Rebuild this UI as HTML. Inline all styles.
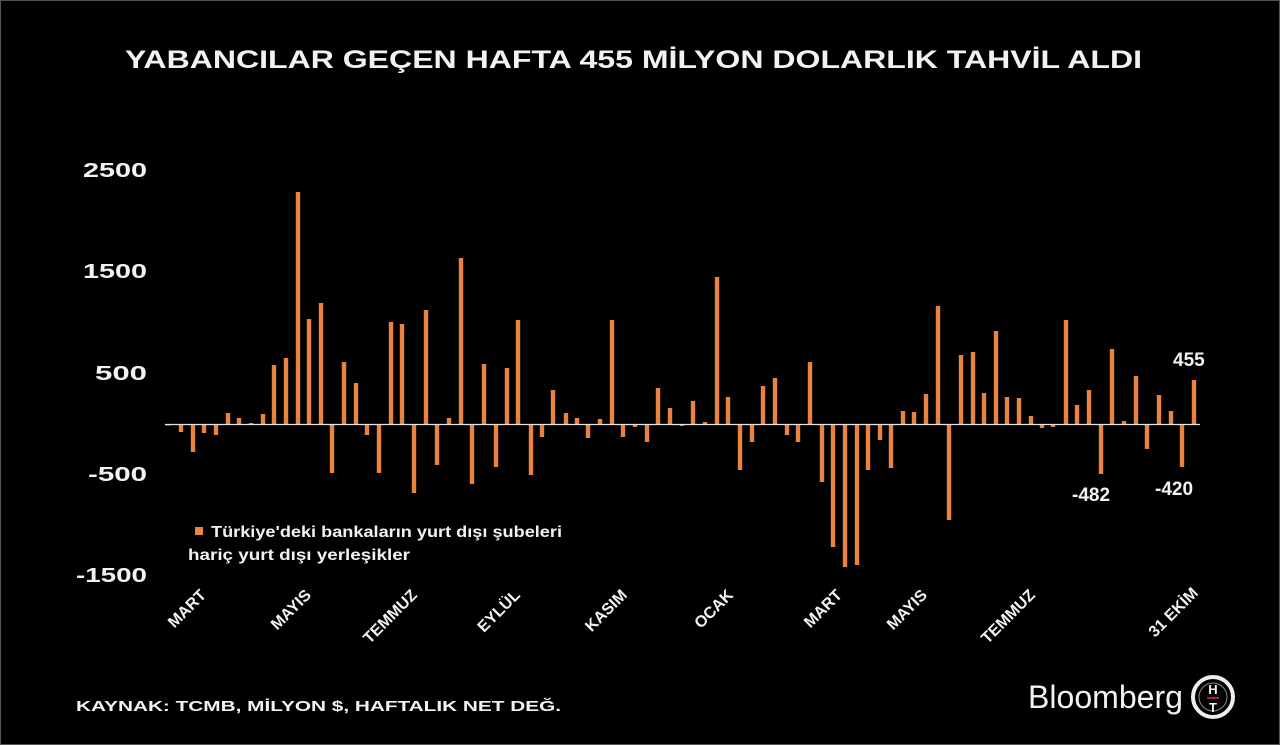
<!DOCTYPE html>
<html><head><meta charset="utf-8"><style>
html,body{margin:0;padding:0;background:#000;}
svg{display:block;}
text{font-family:"Liberation Sans","DejaVu Sans",sans-serif;font-weight:bold;fill:#f2f2f2;}
</style></head><body>
<svg width="1280" height="745" viewBox="0 0 1280 745" xmlns="http://www.w3.org/2000/svg">
<rect x="0" y="0" width="1280" height="745" fill="#000"/>
<rect x="0.5" y="0.5" width="1279" height="744" fill="none" stroke="#555" stroke-width="1"/>
<text x="125" y="68" font-size="25" textLength="1017" lengthAdjust="spacingAndGlyphs">YABANCILAR  GEÇEN  HAFTA  455  MİLYON  DOLARLIK  TAHVİL  ALDI</text>
<g font-size="20">
<text x="83" y="177" textLength="64" lengthAdjust="spacingAndGlyphs">2500</text>
<text x="83" y="278" textLength="64" lengthAdjust="spacingAndGlyphs">1500</text>
<text x="95" y="380" textLength="52" lengthAdjust="spacingAndGlyphs">500</text>
<text x="88" y="481" textLength="59" lengthAdjust="spacingAndGlyphs">-500</text>
<text x="76" y="582" textLength="71" lengthAdjust="spacingAndGlyphs">-1500</text>
</g>
<g id="bars" fill="#e8843f"></g>
<line x1="165" y1="424.5" x2="1200" y2="424.5" stroke="#e6e6e6" stroke-width="1.3"/>
<g font-size="19">
<text x="1173" y="366">455</text>
<text x="1072" y="501">-482</text>
<text x="1155" y="495">-420</text>
</g>
<rect x="195" y="527" width="8" height="8" fill="#e8843f"/>
<text x="211" y="537" font-size="16" textLength="351" lengthAdjust="spacingAndGlyphs">Türkiye'deki bankaların yurt dışı şubeleri</text>
<text x="188" y="560" font-size="16" textLength="222" lengthAdjust="spacingAndGlyphs">hariç yurt dışı yerleşikler</text>
<g font-size="16" text-anchor="end">
<text transform="translate(207,596) rotate(-45)">MART</text>
<text transform="translate(312,596) rotate(-45)">MAYIS</text>
<text transform="translate(418,596) rotate(-45)">TEMMUZ</text>
<text transform="translate(521,596) rotate(-45)">EYLÜL</text>
<text transform="translate(628,596) rotate(-45)">KASIM</text>
<text transform="translate(734,596) rotate(-45)">OCAK</text>
<text transform="translate(843,596) rotate(-45)">MART</text>
<text transform="translate(928,596) rotate(-45)">MAYIS</text>
<text transform="translate(1036,596) rotate(-45)">TEMMUZ</text>
<text transform="translate(1199,594) rotate(-45)">31 EKİM</text>
</g>
<text x="76" y="711" font-size="15" textLength="485" lengthAdjust="spacingAndGlyphs">KAYNAK: TCMB, MİLYON $, HAFTALIK NET DEĞ.</text>
<text x="1028" y="708" font-size="32" style="font-weight:normal" textLength="155" lengthAdjust="spacingAndGlyphs">Bloomberg</text>
<circle cx="1213" cy="697" r="20" fill="none" stroke="#eee" stroke-width="4"/>
<circle cx="1213" cy="697" r="14" fill="none" stroke="#888" stroke-width="1"/>
<text x="1213" y="694" font-size="13" text-anchor="middle">H</text>
<rect x="1207" y="697" width="12" height="2" fill="#a0252d"/>
<text x="1213" y="712" font-size="13" text-anchor="middle">T</text>
</svg>
<script>
var d=[[168,425],[181,432],[193,452],[204,433],[216,435],[228,413],[239,418],[251,423],[263,414],[274,365],[286,358],[298,192],[309,319],[321,303],[332,473],[344,362],[356,383],[367,435],[379,473],[391,322],[402,324],[414,493],[426,310],[437,465],[449,418],[461,258],[472,484],[484,364],[496,467],[507,368],[518,320],
[531,475],[542,437],[553,390],[566,413],[577,418],[588,438],[600,419],[612,320],[623,437],[635,427],[647,442],[658,388],[670,408],[682,426],[693,401],[705,422],[717,277],[728,397],[740,470],[752,442],[763,386],[775,378],[787,435],[798,442],[810,362],[822,482],[833,547],[845,567],[857,565],[868,470],
[880,440],[891,468],[903,411],[914,412],[926,394],[938,306],[949,520],[961,355],[973,352],[984,393],[996,331],[1007,397],[1019,398],[1031,416],[1042,428],[1053,427],[1066,320],[1077,405],[1089,390],[1101,474],[1112,349],[1124,421],[1136,376],[1147,449],[1159,395],[1171,411],[1182,467],[1194,380]];
var g=document.getElementById('bars'),z=424.5;
d.forEach(function(b){var y1=Math.min(b[1],z),h=Math.max(Math.abs(b[1]-z),1);
var r=document.createElementNS('http://www.w3.org/2000/svg','rect');
r.setAttribute('x',b[0]-2.2);r.setAttribute('y',y1);r.setAttribute('width',4.4);r.setAttribute('height',h);g.appendChild(r);});
</script>
</body></html>
